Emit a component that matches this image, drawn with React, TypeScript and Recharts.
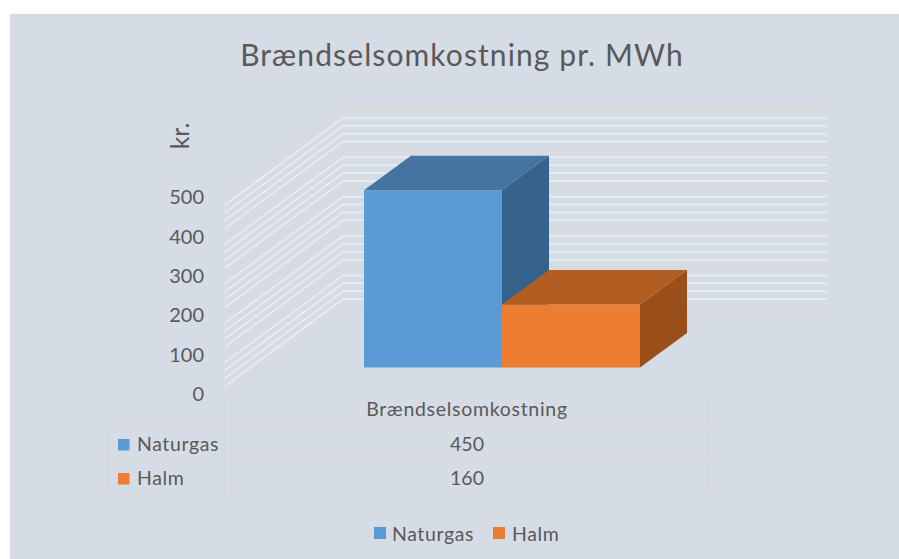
import React from "react";
import { BarChart, Bar, XAxis, YAxis, CartesianGrid, Legend } from "recharts";

const title = "Brændselsomkostning pr. MWh";
const yAxisTitle = "kr.";
const categories = ["Brændselsomkostning"];
const seriesNames = ["Naturgas", "Halm"];
const seriesColors = ["#5B9BD5", "#ED7D31"];
const seriesTopColors = ["#44749F", "#B25D22"];
const seriesSideColors = ["#34628A", "#9A4F1A"];
const naturgasValues = [450];
const halmValues = [160];
const yDomain = [0, 500];
const majorTicks = [0, 100, 200, 300, 400, 500];
const minorTicks = [20, 40, 60, 80, 120, 140, 160, 180, 220, 240, 260, 280, 320, 340, 360, 380, 420, 440, 460, 480];

const data = categories.map((category, i) => ({
  category,
  [seriesNames[0]]: naturgasValues[i],
  [seriesNames[1]]: halmValues[i],
}));

const FONT = "Lato, sans-serif";
const TEXT = "#595959";
const WALL_DX = 118;
const WALL_DY = -87;
const BAR_DX = 35;
const BAR_DY = -26.5;
const DEPTH_DX = 47;
const DEPTH_DY = -34.5;
const TABLE_LINE = "#D9D9D7";

const wallLine = (stroke: string, strokeWidth: number) => (p: any) => (
  <polyline
    key={p.key ?? p.index}
    points={`${p.x1},${p.y1} ${p.x1 + WALL_DX},${p.y1 + WALL_DY} ${p.x2 + WALL_DX},${p.y1 + WALL_DY}`}
    fill="none"
    stroke={stroke}
    strokeWidth={strokeWidth}
  />
);

const boxShape = (seriesIndex: number) => (p: any) => {
  const x = p.x + BAR_DX;
  const y = p.y + BAR_DY;
  const w = p.width;
  const h = p.height;
  return (
    <g>
      <polygon
        points={`${x + w},${y} ${x + w + DEPTH_DX},${y + DEPTH_DY} ${x + w + DEPTH_DX},${y + h + DEPTH_DY} ${x + w},${y + h}`}
        fill={seriesSideColors[seriesIndex]}
      />
      <polygon
        points={`${x},${y} ${x + DEPTH_DX},${y + DEPTH_DY} ${x + w + DEPTH_DX},${y + DEPTH_DY} ${x + w},${y}`}
        fill={seriesTopColors[seriesIndex]}
      />
      <rect x={x} y={y} width={w} height={h} fill={seriesColors[seriesIndex]} />
    </g>
  );
};

const TableTick = (p: any) => {
  const cx = p.x;
  const top = p.y;
  const left = 225;
  const right = 709;
  const outer = 109;
  const rows = [top + 33, top + 67, top + 102];
  const seriesValues = [naturgasValues, halmValues];
  const lineProps = { stroke: TABLE_LINE, strokeWidth: 2 };
  return (
    <g fontFamily={FONT} fontSize={19.5} fill={TEXT}>
      <line x1={left} x2={left} y1={top} y2={rows[2]} {...lineProps} />
      <line x1={right} x2={right} y1={top} y2={rows[2]} {...lineProps} />
      <line x1={outer} x2={outer} y1={rows[0]} y2={rows[2]} {...lineProps} />
      {rows.map((y) => (
        <line key={y} x1={outer} x2={right} y1={y} y2={y} {...lineProps} />
      ))}
      <text x={cx} y={top + 22} textAnchor="middle" letterSpacing={0.7}>
        {p.payload.value}
      </text>
      {seriesNames.map((name, i) => (
        <g key={name}>
          <rect x={118} y={rows[i] + 12} width={11.5} height={11.5} fill={seriesColors[i]} />
          <text x={137} y={rows[i] + 24} letterSpacing={0.6}>{name}</text>
          <text x={cx} y={rows[i] + 24} textAnchor="middle">
            {seriesValues[i][p.index]}
          </text>
        </g>
      ))}
    </g>
  );
};

const LegendContent = (p: any) => (
  <div style={{ position: "relative", height: 28, fontFamily: FONT, fontSize: 19.5, color: TEXT }}>
    {(p.payload || []).map((item: any, i: number) => (
      <div key={item.value} style={{ position: "absolute", left: i === 0 ? 374 : 493, top: 0, display: "flex", alignItems: "center", height: 28 }}>
        <span style={{ width: 12, height: 12, background: item.color, marginRight: i === 0 ? 6 : 7, display: "inline-block" }} />
        <span style={{ letterSpacing: 0.6 }}>{item.value}</span>
      </div>
    ))}
  </div>
);

export default function App() {
  return (
    <div style={{ position: "absolute", left: 0, top: 0, width: 899, height: 559, overflow: "hidden", background: "#fff" }}>
      <div style={{ position: "absolute", left: 10, top: 14, width: 889, height: 545, background: "#D6DCE5", borderLeft: "1px solid #DADADA", borderTop: "1px solid #DADADA", boxSizing: "border-box" }} />
      <div style={{ position: "absolute", left: 0, top: 36, width: 924, textAlign: "center", fontFamily: FONT, fontSize: 30, letterSpacing: 1.1, color: TEXT, whiteSpace: "nowrap" }}>
        {title}
      </div>
      <div style={{ position: "absolute", left: 0, top: 0 }}>
        <BarChart
          width={899}
          height={559}
          data={data}
          margin={{ top: 197, right: 190, bottom: 65, left: 165 }}
          barCategoryGap={104}
          barGap={0}
        >
          <CartesianGrid
            yAxisId="major"
            vertical={false}
            horizontal={wallLine("#EBEEF0", 1.5)}
            horizontalCoordinatesGenerator={({ offset }: any) =>
              minorTicks.map((t) => offset.top + offset.height * (1 - (t - yDomain[0]) / (yDomain[1] - yDomain[0])))
            }
          />
          <CartesianGrid yAxisId="major" vertical={false} horizontal={wallLine("#D9D9D7", 2)} />
          <XAxis
            dataKey="category"
            height={100}
            axisLine={false}
            tickLine={false}
            tickSize={0}
            tickMargin={0}
            interval={0}
            tick={<TableTick />}
          />
          <YAxis
            yAxisId="major"
            width={60}
            domain={yDomain}
            ticks={majorTicks}
            interval={0}
            axisLine={false}
            tickLine={false}
            tickSize={0}
            tickMargin={21}
            tick={{ fontFamily: FONT, fontSize: 20, fill: TEXT }}
            label={{ value: yAxisTitle, angle: -90, position: "top", dx: -6, dy: -56, style: { fontFamily: FONT, fontSize: 25, fill: TEXT } }}
          />
          {seriesNames.map((name, i) => (
            <Bar
              key={name}
              yAxisId="major"
              dataKey={name}
              fill={seriesColors[i]}
              isAnimationActive={false}
              shape={boxShape(i)}
            />
          ))}
          <Legend
            layout="horizontal"
            verticalAlign="middle"
            align="center"
            itemSorter={null}
            wrapperStyle={{ left: 0, top: 519, width: 899 }}
            content={<LegendContent />}
          />
        </BarChart>
      </div>
    </div>
  );
}
